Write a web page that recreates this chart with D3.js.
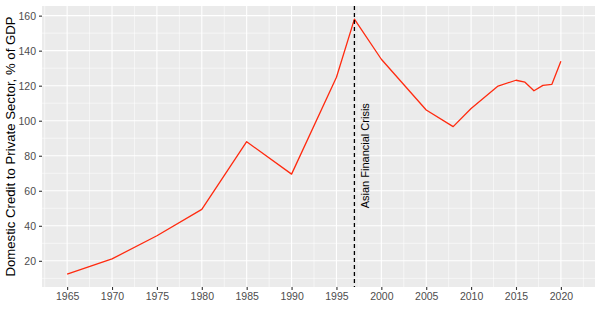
<!DOCTYPE html>
<html>
<head>
<meta charset="utf-8">
<script src="https://cdn.jsdelivr.net/npm/d3@7"></script>
<style>
  html, body { margin: 0; padding: 0; background: #ffffff; }
  svg { display: block; font-family: "Liberation Sans", Arial, sans-serif; }
</style>
</head>
<body>
<svg id="chart" width="602" height="322"></svg>
<script>
// ---- data ----
const years = [1965, 1970, 1975, 1980, 1985, 1990, 1995, 1997, 2000, 2005, 2008, 2010, 2013, 2015, 2016, 2017, 2018, 2019, 2020];
const credit = [12.4, 21.1, 34.3, 49.4, 88.0, 69.5, 124.8, 158.0, 135.1, 106.1, 96.6, 107.0, 119.8, 123.1, 122.0, 117.1, 120.2, 120.8, 133.9];
const xTicks = [1965, 1970, 1975, 1980, 1985, 1990, 1995, 2000, 2005, 2010, 2015, 2020];
const xMinor = [1962.5, 1967.5, 1972.5, 1977.5, 1982.5, 1987.5, 1992.5, 1997.5, 2002.5, 2007.5, 2012.5, 2017.5, 2022.5];
const yTicks = [20, 40, 60, 80, 100, 120, 140, 160];
const yMinor = [10, 30, 50, 70, 90, 110, 130, 150];
const crisisYear = 1997;
const crisisLabel = "Asian Financial Crisis";
const crisisLabelPos = [1998.2, 80];
const yTitle = "Domestic Credit to Private Sector, % of GDP";

// ---- layout ----
const panel = { left: 42, top: 6, right: 595, bottom: 287 };
const svg = d3.select("#chart");

const x = d3.scaleLinear().domain([1962.2, 2023.8]).range([panel.left, panel.right]);
const y = d3.scaleLinear().domain([5.05, 165.5]).range([panel.bottom, panel.top]);

svg.append("rect")
  .attr("x", panel.left).attr("y", panel.top)
  .attr("width", panel.right - panel.left).attr("height", panel.bottom - panel.top)
  .attr("fill", "#EBEBEB");

const grid = svg.append("g");
grid.selectAll(".ymin").data(yMinor).enter().append("line")
  .attr("x1", panel.left).attr("x2", panel.right)
  .attr("y1", d => y(d)).attr("y2", d => y(d))
  .attr("stroke", "#ffffff").attr("stroke-width", 0.55);
grid.selectAll(".xmin").data(xMinor).enter().append("line")
  .attr("y1", panel.top).attr("y2", panel.bottom)
  .attr("x1", d => x(d)).attr("x2", d => x(d))
  .attr("stroke", "#ffffff").attr("stroke-width", 0.55);
grid.selectAll(".ymaj").data(yTicks).enter().append("line")
  .attr("x1", panel.left).attr("x2", panel.right)
  .attr("y1", d => y(d)).attr("y2", d => y(d))
  .attr("stroke", "#ffffff").attr("stroke-width", 1.1);
grid.selectAll(".xmaj").data(xTicks).enter().append("line")
  .attr("y1", panel.top).attr("y2", panel.bottom)
  .attr("x1", d => x(d)).attr("x2", d => x(d))
  .attr("stroke", "#ffffff").attr("stroke-width", 1.1);

// axes
const xAxis = svg.append("g")
  .attr("transform", `translate(0,${panel.bottom})`)
  .call(d3.axisBottom(x).tickValues(xTicks).tickFormat(d3.format("d")).tickSize(3).tickPadding(3));
const yAxis = svg.append("g")
  .attr("transform", `translate(${panel.left},0)`)
  .call(d3.axisLeft(y).tickValues(yTicks).tickSize(3).tickPadding(3));
[xAxis, yAxis].forEach(a => {
  a.select(".domain").remove();
  a.selectAll(".tick line").attr("stroke", "#333333").attr("stroke-width", 1.1);
  a.selectAll(".tick text").attr("fill", "#4D4D4D").style("font-size", "10.5px")
    .style("font-family", "'Liberation Sans', Arial, sans-serif");
});

// line
const line = d3.line().x((d, i) => x(years[i])).y(d => y(d));
svg.append("path")
  .datum(credit)
  .attr("d", line)
  .attr("fill", "none")
  .attr("stroke", "#FF2A0F")
  .attr("stroke-width", 1.3)
  .attr("stroke-linejoin", "round");

// crisis vline
svg.append("line")
  .attr("x1", x(crisisYear)).attr("x2", x(crisisYear))
  .attr("y1", panel.top).attr("y2", panel.bottom)
  .attr("stroke", "#000000").attr("stroke-width", 1.3)
  .attr("stroke-dasharray", "4,3");

svg.append("text")
  .attr("transform", `translate(${x(crisisLabelPos[0]) + 4},${y(crisisLabelPos[1])}) rotate(-90)`)
  .attr("text-anchor", "middle")
  .attr("fill", "#000000")
  .style("font-size", "11px")
  .text(crisisLabel);

// y title
svg.append("text")
  .attr("transform", `translate(15,${(panel.top + panel.bottom) / 2}) rotate(-90)`)
  .attr("text-anchor", "middle")
  .attr("fill", "#000000")
  .style("font-size", "13.2px")
  .text(yTitle);
</script>
</body>
</html>
